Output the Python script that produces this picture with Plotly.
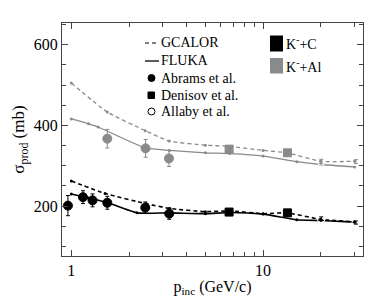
import plotly.graph_objects as go
import math

# ---------------- data ----------------
# K- + C
gcalor_c_p = [1.0, 1.5, 2.45, 3.26, 5.0, 6.7, 10.0, 13.3, 20.0, 30.0]
gcalor_c_v = [262, 231, 206, 194, 186, 188, 181, 183, 167, 161]
fluka_c_p = [1.0, 1.23, 1.55, 2.2, 3.24, 5.0, 6.7, 10.0, 15.0, 20.0, 30.0]
fluka_c_v = [230, 220, 208, 183, 183, 181, 184, 180, 166, 164, 160]
abrams_c_p = [0.96, 1.15, 1.29, 1.54, 2.43, 3.24]
abrams_c_v = [201, 222, 214, 208, 196, 181]
abrams_c_e = [25, 16, 16, 16, 14, 14]
denisov_c_p = [6.65, 13.4]
denisov_c_v = [185, 183]
allaby_c_p = [20.1, 30.5]
allaby_c_v = [169, 159]
allaby_c_e = [4, 4]

# K- + Al
gcalor_al_p = [1.0, 1.54, 2.43, 3.24, 5.0, 6.65, 10.0, 13.3, 20.0, 30.0]
gcalor_al_v = [505, 433, 387, 361, 351, 348, 338, 332, 311, 311]
fluka_al_p = [1.0, 1.23, 1.38, 2.43, 3.24, 5.0, 6.7, 10.0, 15.0, 20.0, 30.0]
fluka_al_v = [416, 404, 396, 344, 338, 332, 330, 324, 310, 303, 297]
abrams_al_p = [1.54, 2.44, 3.23]
abrams_al_v = [367, 343, 318]
abrams_al_e = [23, 22, 20]
denisov_al_p = [6.65, 13.4]
denisov_al_v = [341, 332]
allaby_al_p = [20.1, 30.5]
allaby_al_v = [311, 310]
allaby_al_e = [5, 5]

x_tick_vals = [1, 10]
x_tick_text = ["1", "10"]
y_tick_vals = [200, 400, 600]

BLACK = "#000000"
GREY = "#8a8a8a"
FONT = "Liberation Serif"

fig = go.Figure()

def curve(p, v, color, dash, width):
    fig.add_trace(go.Scatter(x=p, y=v, mode="lines+markers", line=dict(color=color, dash=dash, width=width, shape="spline", smoothing=0.5),
                             marker=dict(size=3, color=color), showlegend=False, hoverinfo="skip"))

curve(gcalor_al_p, gcalor_al_v, GREY, "4px,3px", 1.3)
curve(fluka_al_p, fluka_al_v, GREY, "solid", 1.3)
curve(gcalor_c_p, gcalor_c_v, BLACK, "4px,3px", 1.6)
curve(fluka_c_p, fluka_c_v, BLACK, "solid", 1.6)

def points(p, v, e, color, symbol, size, fill=True):
    err = dict(type="data", array=e, color=color, thickness=1, width=2) if e else None
    fig.add_trace(go.Scatter(x=p, y=v, mode="markers", error_y=err,
                             marker=dict(symbol=symbol, size=size, color=color if fill else "white",
                                         line=dict(color=color, width=1)),
                             showlegend=False))

points(abrams_al_p, abrams_al_v, abrams_al_e, GREY, "circle", 9)
points(denisov_al_p, denisov_al_v, None, GREY, "square", 8)
points(allaby_al_p, allaby_al_v, allaby_al_e, GREY, "circle-open", 8, fill=False)
points(abrams_c_p, abrams_c_v, abrams_c_e, BLACK, "circle", 9)
points(denisov_c_p, denisov_c_v, None, BLACK, "square", 8)
points(allaby_c_p, allaby_c_v, allaby_c_e, BLACK, "circle-open", 8, fill=False)

# ---------------- legend (manual) ----------------
L, R, T, B = 54, 355, 15, 248
def px(x): return (x - L) / (R - L)
def py(y): return (B - y) / (B - T)

shapes = []
shapes.append(dict(type="line", xref="paper", yref="paper", x0=px(137), x1=px(151), y0=py(35), y1=py(35),
                   line=dict(color=BLACK, width=1.2, dash="4px,3px")))
shapes.append(dict(type="line", xref="paper", yref="paper", x0=px(137), x1=px(151), y0=py(53), y1=py(53),
                   line=dict(color=BLACK, width=1.3)))
shapes.append(dict(type="circle", xref="paper", yref="paper", x0=px(140), x1=px(147), y0=py(66.5), y1=py(73.5),
                   fillcolor=BLACK, line=dict(color=BLACK, width=1)))
shapes.append(dict(type="rect", xref="paper", yref="paper", x0=px(140), x1=px(146.5), y0=py(84), y1=py(90.5),
                   fillcolor=BLACK, line=dict(color=BLACK, width=1)))
shapes.append(dict(type="circle", xref="paper", yref="paper", x0=px(140), x1=px(147), y0=py(100), y1=py(107),
                   fillcolor="white", line=dict(color=BLACK, width=1)))
shapes.append(dict(type="rect", xref="paper", yref="paper", x0=px(262), x1=px(275), y0=py(27.5), y1=py(43.5),
                   fillcolor=BLACK, line=dict(width=0)))
shapes.append(dict(type="rect", xref="paper", yref="paper", x0=px(262), x1=px(275), y0=py(50), y1=py(65.5),
                   fillcolor=GREY, line=dict(width=0)))

ann = []
def label(x, y, text):
    ann.append(dict(xref="paper", yref="paper", x=px(x), y=py(y), xanchor="left", yanchor="middle",
                    text=text, showarrow=False, font=dict(family=FONT, size=14, color="black")))
label(151, 35, "GCALOR")
label(151, 53, "FLUKA")
label(151, 70, "Abrams et al.")
label(151, 87, "Denisov et al.")
label(151, 103, "Allaby et al.")
label(276, 35, "K<sup>-</sup>+C")
label(276, 58, "K<sup>-</sup>+Al")

AXC = "#444444"
fig.update_layout(
    template="none",
    width=374, height=296,
    margin=dict(l=L, r=374 - R, t=T, b=296 - B),
    paper_bgcolor="white", plot_bgcolor="white",
    font=dict(family=FONT, size=14, color="black"),
    shapes=shapes, annotations=ann,
    showlegend=False,
    xaxis=dict(type="log", range=[math.log10(0.894), math.log10(33.2)],
               tickvals=x_tick_vals, ticktext=x_tick_text, ticks="inside", ticklen=6, tickcolor=AXC,
               minor=dict(tickvals=[2, 3, 4, 5, 6, 7, 8, 9, 20, 30], ticks="inside", ticklen=4, tickcolor=AXC),
               showline=True, linecolor=AXC, linewidth=1, mirror="ticks", showgrid=False, zeroline=False,
               title=dict(text="p<sub>inc</sub> (GeV/c)", font=dict(family=FONT, size=16, color="black"), standoff=2),
               tickfont=dict(family=FONT, size=16, color="black")),
    yaxis=dict(range=[76, 654], tickvals=y_tick_vals, ticks="inside", ticklen=6, tickcolor=AXC,
               minor=dict(dtick=50, tick0=0, ticks="inside", ticklen=4, tickcolor=AXC),
               showline=True, linecolor=AXC, linewidth=1, mirror="ticks", showgrid=False, zeroline=False,
               title=dict(text="σ<sub>prod</sub> (mb)", font=dict(family=FONT, size=17, color="black"), standoff=4),
               tickfont=dict(family=FONT, size=16, color="black")),
)

fig.write_html("out.html")
